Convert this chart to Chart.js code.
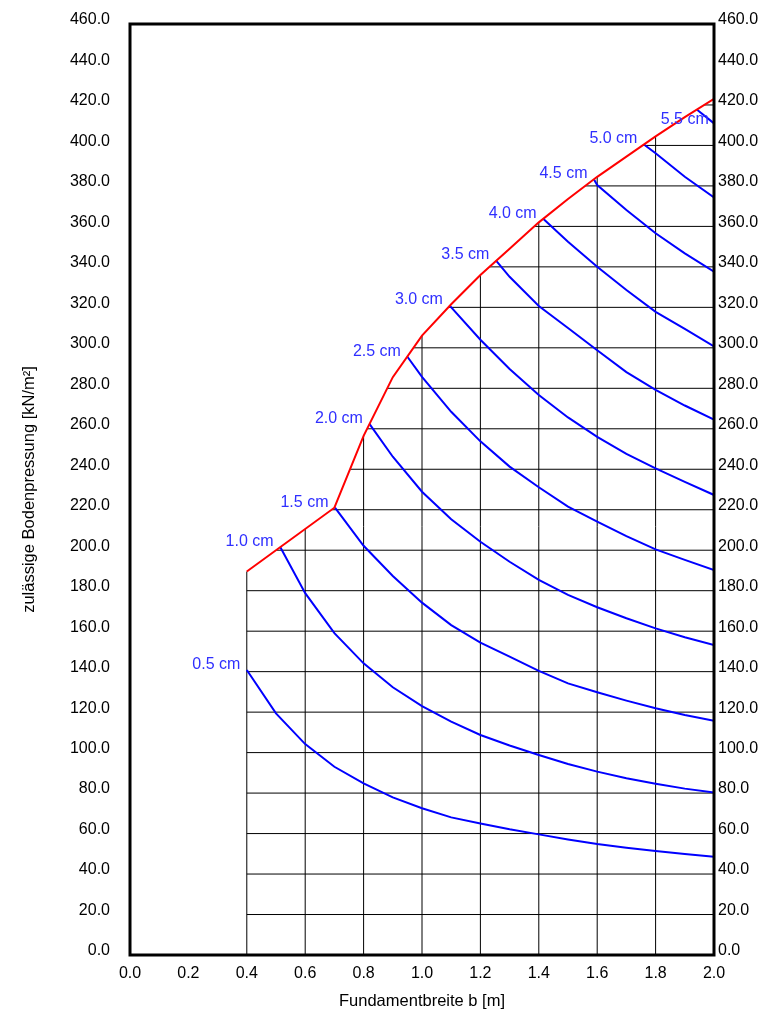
<!DOCTYPE html>
<html>
<head>
<meta charset="utf-8">
<script src="https://cdn.jsdelivr.net/npm/chart.js@4.4.1/dist/chart.umd.min.js"></script>
<style>
  html, body { margin: 0; padding: 0; background: #fff; }
  canvas { display: block; }
</style>
</head>
<body>
<canvas id="chart" width="762" height="1012"></canvas>
<script>
// Foundation width b [m] at which the settlement curves are tabulated
const widths = [0.4, 0.5, 0.6, 0.7, 0.8, 0.9, 1.0, 1.1, 1.2, 1.3, 1.4, 1.5, 1.6, 1.7, 1.8, 1.9, 2.0];

// Limit line (admissible pressure envelope)
const envelopeB = [0.4, 0.7, 0.8, 0.9, 1.0, 1.1, 1.2, 1.3, 1.4, 1.5, 1.6, 1.7, 1.8, 1.9, 2.0];
const envelopeP = [189.5, 221.0, 256.5, 285.5, 306.0, 321.5, 336.0, 349.0, 362.0, 373.5, 384.5, 394.5, 404.5, 414.0, 423.0];

// Settlement curves: label, start point on the envelope, values over `widths`
const curveLabels = ['0.5 cm', '1.0 cm', '1.5 cm', '2.0 cm', '2.5 cm', '3.0 cm', '3.5 cm', '4.0 cm', '4.5 cm', '5.0 cm', '5.5 cm'];
const curveStartB = [0.4, 0.514, 0.702, 0.82, 0.95, 1.094, 1.253, 1.415, 1.589, 1.76, 1.941];
const curveStartP = [140.8, 201.7, 221.0, 262.4, 295.6, 321.0, 343.2, 363.8, 383.2, 400.5, 417.8];

const s05 = [null, 119.4, 104.2, 93.0, 84.8, 77.9, 72.5, 68.0, 65.0, 62.1, 59.6, 57.1, 54.8, 53.0, 51.4, 49.9, 48.5];
const s10 = [null, null, 178.8, 159.0, 144.1, 132.3, 123.0, 115.3, 108.7, 103.5, 98.8, 94.4, 90.6, 87.3, 84.6, 82.2, 80.3];
const s15 = [null, null, null, null, 202.2, 187.3, 174.1, 163.0, 154.3, 147.4, 140.4, 134.2, 129.8, 125.7, 121.9, 118.6, 115.7];
const s20 = [null, null, null, null, null, 246.2, 228.9, 215.3, 204.2, 194.3, 185.3, 177.9, 171.8, 166.4, 161.4, 157.0, 153.2];
const s25 = [null, null, null, null, null, null, 285.7, 268.4, 253.8, 241.3, 231.1, 221.5, 214.1, 207.0, 200.4, 195.2, 190.2];
const s30 = [null, null, null, null, null, null, null, null, 304.0, 289.5, 276.7, 265.6, 256.0, 247.6, 240.4, 233.8, 227.3];
const s35 = [null, null, null, null, null, null, null, null, null, 335.1, 320.7, 309.8, 298.8, 288.0, 279.2, 271.5, 264.5];
const s40 = [null, null, null, null, null, null, null, null, null, null, null, 352.4, 340.1, 328.6, 317.8, 309.4, 300.7];
const s45 = [null, null, null, null, null, null, null, null, null, null, null, null, 380.4, 368.1, 356.6, 346.7, 337.6];
const s50 = [null, null, null, null, null, null, null, null, null, null, null, null, null, null, 396.1, 384.5, 374.3];
const s55 = [null, null, null, null, null, null, null, null, null, null, null, null, null, null, null, null, 410.9];
const curveValues = [s05, s10, s15, s20, s25, s30, s35, s40, s45, s50, s55];

// Grid lines drawn only below the envelope
const gridWidths = [0.4, 0.6, 0.8, 1.0, 1.2, 1.4, 1.6, 1.8];
const gridPressures = [20, 40, 60, 80, 100, 120, 140, 160, 180, 200, 220, 240, 260, 280, 300, 320, 340, 360, 380, 400, 420];

const FONT = "'Liberation Sans', Arial, Helvetica, sans-serif";
const LABEL_BLUE = '#2f2fff';

const envelopeData = envelopeB.map((b, i) => ({ x: b, y: envelopeP[i] }));

const curveDatasets = curveLabels.map((label, k) => {
  const pts = [{ x: curveStartB[k], y: curveStartP[k] }];
  widths.forEach((b, i) => {
    const v = curveValues[k][i];
    if (v !== null) pts.push({ x: b, y: v });
  });
  return {
    label,
    data: pts,
    showLine: true,
    borderColor: '#0000ff',
    borderWidth: 2,
    pointRadius: 0,
    tension: 0,
    yAxisID: 'y'
  };
});

// Grid below the envelope, clipped to the region under the red line
const envelopeGrid = {
  id: 'envelopeGrid',
  beforeDatasetsDraw(chart) {
    const { ctx, scales: { x, y } } = chart;
    ctx.save();
    ctx.beginPath();
    const xl = x.getPixelForValue(envelopeB[0]) - 1.5;
    ctx.moveTo(xl, y.getPixelForValue(0) + 2);
    ctx.lineTo(xl, y.getPixelForValue(envelopeP[0]));
    envelopeB.forEach((b, i) => ctx.lineTo(x.getPixelForValue(b), y.getPixelForValue(envelopeP[i])));
    ctx.lineTo(x.getPixelForValue(2.0) + 2, y.getPixelForValue(envelopeP[envelopeP.length - 1]));
    ctx.lineTo(x.getPixelForValue(2.0) + 2, y.getPixelForValue(0) + 2);
    ctx.closePath();
    ctx.clip();
    ctx.strokeStyle = '#000';
    ctx.lineWidth = 1;
    ctx.beginPath();
    const x0 = x.getPixelForValue(gridWidths[0]);
    const x1 = x.getPixelForValue(2.0);
    gridPressures.forEach(p => {
      const py = y.getPixelForValue(p);
      ctx.moveTo(x0, py);
      ctx.lineTo(x1, py);
    });
    gridWidths.forEach(b => {
      const px = x.getPixelForValue(b);
      ctx.moveTo(px, y.getPixelForValue(0));
      ctx.lineTo(px, y.getPixelForValue(460));
    });
    ctx.stroke();
    ctx.restore();
  }
};

// Settlement labels next to the first point of each curve
const curveLabelShift = { '5.5 cm': [12, 10] };
const curveTags = {
  id: 'curveTags',
  afterDatasetsDraw(chart) {
    const { ctx } = chart;
    ctx.save();
    ctx.font = '16px ' + FONT;
    ctx.fillStyle = LABEL_BLUE;
    ctx.textAlign = 'right';
    ctx.textBaseline = 'middle';
    chart.data.datasets.forEach((ds, i) => {
      if (!curveLabels.includes(ds.label)) return;
      const pt = chart.getDatasetMeta(i).data[0];
      const [dx, dy] = curveLabelShift[ds.label] || [-6.5, -5.5];
      ctx.fillText(ds.label, pt.x + dx, pt.y + dy);
    });
    ctx.restore();
  }
};

// Heavy frame around the plot area
const plotFrame = {
  id: 'plotFrame',
  afterDraw(chart) {
    const { ctx, chartArea: a } = chart;
    ctx.save();
    ctx.strokeStyle = '#000';
    ctx.lineWidth = 3;
    ctx.strokeRect(a.left, a.top, a.right - a.left, a.bottom - a.top);
    ctx.restore();
  }
};

// Fixed axis sizes; no extra label overhang padding
function fixSize(w, h) {
  return s => {
    if (w !== null) s.width = w;
    if (h !== null) s.height = h;
    s.paddingTop = 0;
    s.paddingBottom = 0;
    s.paddingLeft = 0;
    s.paddingRight = 0;
  };
}

const tickFont = { family: FONT, size: 16 };
const titleFont = { family: FONT, size: 16.5 };
const noGrid = { display: false, drawTicks: false };
const fmt = v => Number(v).toFixed(1);

new Chart(document.getElementById('chart'), {
  type: 'scatter',
  data: {
    datasets: [
      {
        label: 'Grenzlinie',
        data: envelopeData,
        showLine: true,
        borderColor: '#ff0000',
        borderWidth: 2,
        pointRadius: 0,
        tension: 0,
        yAxisID: 'y'
      },
      ...curveDatasets
    ]
  },
  options: {
    responsive: false,
    animation: false,
    devicePixelRatio: 1,
    layout: { padding: { top: 24, left: 0, right: 0, bottom: 0 } },
    plugins: { legend: { display: false }, tooltip: { enabled: false } },
    scales: {
      x: {
        type: 'linear',
        position: 'bottom',
        min: 0,
        max: 2,
        ticks: { stepSize: 0.2, callback: fmt, font: tickFont, color: '#000', padding: 9, autoSkip: false, maxRotation: 0 },
        grid: noGrid,
        border: { display: false },
        title: { display: true, text: 'Fundamentbreite b [m]', font: titleFont, color: '#000', padding: { top: 0, bottom: 1 } },
        afterFit: fixSize(null, 57)
      },
      y: {
        type: 'linear',
        position: 'left',
        min: 0,
        max: 460,
        ticks: { stepSize: 20, callback: fmt, font: tickFont, color: '#000', padding: 20, labelOffset: -4, autoSkip: false },
        grid: noGrid,
        border: { display: false },
        title: { display: true, text: 'zulässige Bodenpressung [kN/m²]', font: titleFont, color: '#000', padding: { top: 20, bottom: 0 } },
        afterFit: fixSize(130, null)
      },
      y2: {
        type: 'linear',
        position: 'right',
        min: 0,
        max: 460,
        ticks: { stepSize: 20, callback: fmt, font: tickFont, color: '#000', padding: 4, labelOffset: -4, autoSkip: false },
        grid: noGrid,
        border: { display: false },
        afterFit: fixSize(48, null)
      }
    }
  },
  plugins: [envelopeGrid, curveTags, plotFrame]
});
</script>
</body>
</html>
